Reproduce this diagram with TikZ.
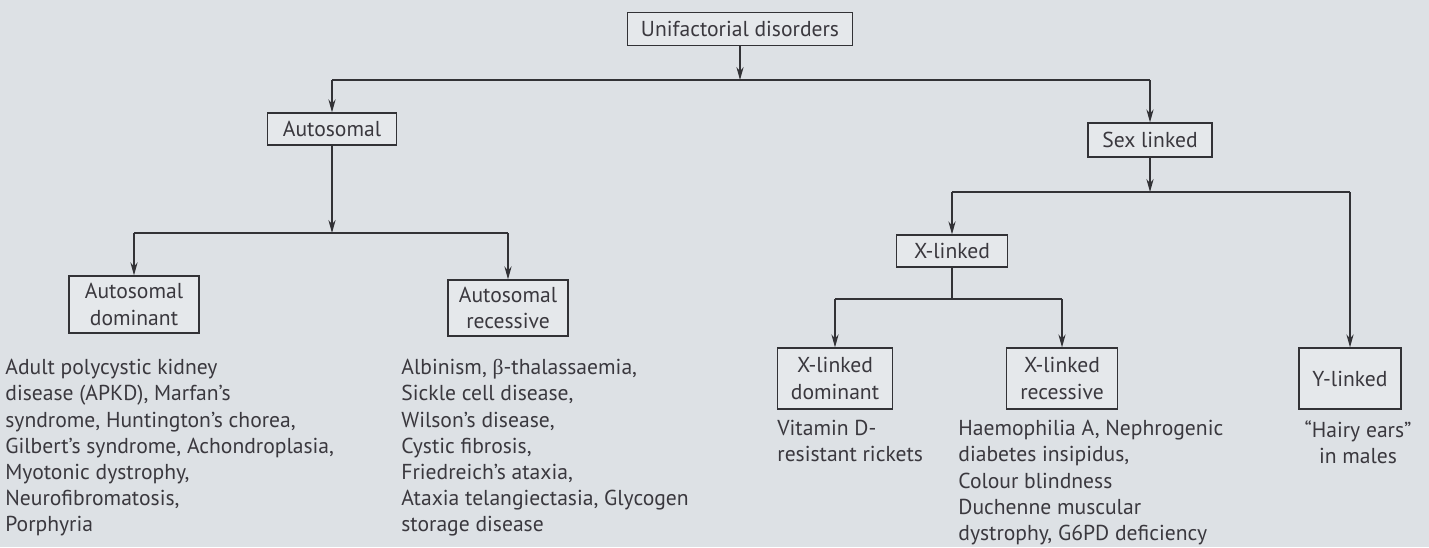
\documentclass[tikz,border=0pt]{standalone}
\usepackage{fontspec}
\setmainfont{PT Sans}
\newfontfamily\betafont{Liberation Serif}
\usepackage{tikz}
\usetikzlibrary{arrows.meta,positioning}
\definecolor{PageGray}{RGB}{221,225,229}
\definecolor{BoxGray}{RGB}{229,232,235}
\definecolor{InkGray}{RGB}{58,56,62}
\definecolor{LineGray}{RGB}{50,50,54}

\begin{document}
\begin{tikzpicture}[x=0.5pt,y=-0.5pt,>={Stealth[length=6.5pt,width=3.6pt]},
    txt/.style={font=\fontsize{10.8pt}{13.1pt}\selectfont,text=InkGray,inner sep=0pt},
    box/.style={txt,draw=LineGray,fill=BoxGray,line width=0.65pt,align=center},
    info/.style={txt,anchor=north west,align=left},
    link/.style={LineGray,line width=0.6pt}]
      \fill[PageGray] (0,0) rectangle (1429,547);
      \useasboundingbox (0,0) rectangle (1429,547);
      \node[box,minimum width=112.5pt,minimum height=16.5pt] (uni) at (740,29) {Unifactorial disorders};
      \node[box,minimum width=64.5pt,minimum height=16pt] (aut) at (332,129) {Autosomal};
      \node[box,minimum width=62pt,minimum height=17pt] (sex) at (1150,140) {Sex linked};
      \node[box,minimum width=65pt,minimum height=28.5pt] (adom) at (134,304.5) {Autosomal\\dominant};
      \node[box,minimum width=60pt,minimum height=28pt] (arec) at (508,308) {Autosomal\\recessive};
      \node[box,minimum width=55.5pt,minimum height=16pt] (xl) at (952,251) {X-linked};
      \node[box,minimum width=57.5pt,minimum height=30.5pt] (xdom) at (835,378.5) {X-linked\\dominant};
      \node[box,minimum width=55.5pt,minimum height=30.5pt] (xrec) at (1062,378.5) {X-linked\\recessive};
      \node[box,minimum width=51pt,minimum height=30.5pt] (ylink) at (1350,378.5) {Y-linked};
      \coordinate (b1) at (740,80);
      \coordinate (b2) at (332,233);
      \coordinate (b3) at (1150,192);
      \coordinate (b4) at (952,299);
      \draw[link,->] (uni) -- (b1);
      \draw[link] (aut |- b1) -- (sex |- b1);
      \draw[link,->] (aut) -- (b2);
      \draw[link] (adom |- b2) -- (arec |- b2);
      \draw[link,->] (sex) -- (b3);
      \draw[link] (xl |- b3) -- (ylink |- b3);
      \draw[link] (xl) -- (b4);
      \draw[link] (xdom |- b4) -- (xrec |- b4);
      \foreach \n/\b in {aut/b1,sex/b1,adom/b2,arec/b2,xl/b3,ylink/b3,xdom/b4,xrec/b4}
        \draw[link,->] (\n |- \b) -- (\n);
      \node[info] (adtext) at (5,359) {Adult polycystic kidney\\disease (APKD), Marfan’s\\syndrome, Huntington’s chorea,\\Gilbert’s syndrome, Achondroplasia,\\Myotonic dystrophy,\\Neurofibromatosis,\\Porphyria};
      \node[info] (artext) at (401,359) {Albinism, {\betafont β}-thalassaemia,\\Sickle cell disease,\\Wilson’s disease,\\Cystic fibrosis,\\Friedreich’s ataxia,\\Ataxia telangiectasia, Glycogen\\storage disease};
      \node[info] (xdtext) at (777,420) {Vitamin D-\\resistant rickets};
      \node[info] (xrtext) at (958,420) {Haemophilia A, Nephrogenic\\diabetes insipidus,\\Colour blindness\\Duchenne muscular\\dystrophy, G6PD deficiency};
      \node[txt,anchor=north,align=center] (ytext) at (1358,420) {“Hairy ears”\\in males};
\end{tikzpicture}
\end{document}
